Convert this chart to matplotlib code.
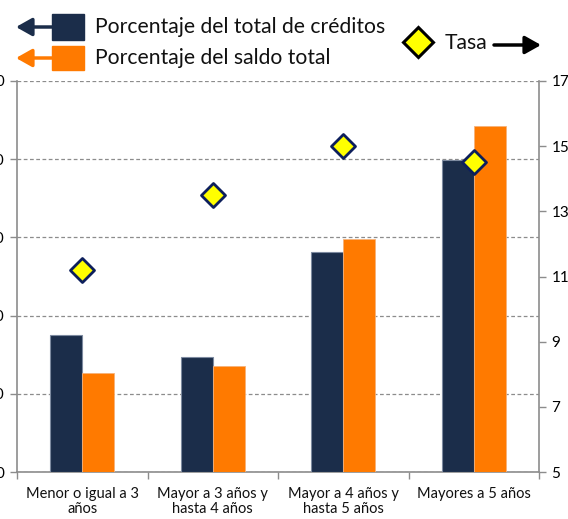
import matplotlib
matplotlib.use('Agg')  # non-interactive backend
import matplotlib.pyplot as plt
from matplotlib.patches import Rectangle
import numpy as np

plt.rcParams['font.family'] = ['Lato', 'DejaVu Sans']

# data
categories = ['Menor o igual a 3\naños', 'Mayor a 3 años y\nhasta 4 años',
              'Mayor a 4 años y\nhasta 5 años', 'Mayores a 5 años']
pct_creditos = [17.5, 14.7, 28.1, 39.9]
pct_saldo = [12.6, 13.6, 29.8, 44.3]
tasa = [11.2, 13.5, 15.0, 14.5]
left_ticks = [0, 10, 20, 30, 40, 50]
right_ticks = [5, 7, 9, 11, 13, 15, 17]

NAVY = '#1b2d4a'
ORANGE = '#ff7a00'
GRID = '#8c8c8c'

fig = plt.figure(figsize=(5.68, 5.19), dpi=100)
ax = fig.add_axes([17 / 568, 47 / 519, 522 / 568, 391 / 519])

x = np.arange(len(categories))
w = 0.245
ax.bar(x - w / 2, pct_creditos, w, color=NAVY, edgecolor='#7d8aa0', linewidth=0.8, zorder=3)
ax.bar(x + w / 2, pct_saldo, w, color=ORANGE, edgecolor='#f6b27a', linewidth=0.6, zorder=3)

ax.set_xlim(-0.5, len(categories) - 0.5)
ax.set_ylim(left_ticks[0], left_ticks[-1])
ax.set_yticks(left_ticks)
ax.yaxis.grid(True, linestyle=(0, (3, 2)), color=GRID, linewidth=0.9, zorder=0)
ax.set_axisbelow(True)

ax.set_xticks(x)
ax.set_xticklabels(categories, fontsize=10.5, color='#111111', linespacing=1.1)
ax.tick_params(axis='x', length=0, pad=11)
ax.set_xticks(np.arange(-0.5, len(categories)), minor=True)
ax.tick_params(axis='x', which='minor', length=5, color=GRID, width=1)
# left labels sit partly off the canvas, as in the reference
ax.tick_params(axis='y', length=5, color=GRID, width=1, labelsize=11, pad=4)

for side in ['left', 'bottom', 'right']:
    ax.spines[side].set_color(GRID)
    ax.spines[side].set_linewidth(1.2)
ax.spines['top'].set_visible(False)

ax2 = ax.twinx()
ax2.set_ylim(right_ticks[0], right_ticks[-1])
ax2.set_yticks(right_ticks)
ax2.tick_params(axis='y', length=5, color=GRID, width=1, labelsize=11, pad=4)
for side in ['left', 'bottom', 'right', 'top']:
    ax2.spines[side].set_visible(False)
ax2.scatter(x, tasa, marker='D', s=150, color='#ffff00', edgecolors='#0d1f5c',
            linewidths=2, zorder=5)

# legend drawn by hand at the top
arrow_style = '-|>,head_length=0.8,head_width=0.45'
fig.add_artist(Rectangle((52, 479), 32, 26, transform=None, color=NAVY))
fig.add_artist(Rectangle((52, 449), 32, 24, transform=None, color=ORANGE))
ax.annotate('', xy=(16, 492), xytext=(53, 492), xycoords='figure pixels',
            arrowprops=dict(arrowstyle=arrow_style, color=NAVY, lw=2.5,
                            mutation_scale=12, shrinkA=0, shrinkB=0))
ax.annotate('', xy=(16, 461), xytext=(53, 461), xycoords='figure pixels',
            arrowprops=dict(arrowstyle=arrow_style, color=ORANGE, lw=2.5,
                            mutation_scale=12, shrinkA=0, shrinkB=0))
fig.text(95 / 568, 492 / 519, 'Porcentaje del total de créditos', fontsize=15.2,
         va='center', ha='left', color='#111111')
fig.text(95 / 568, 461 / 519, 'Porcentaje del saldo total', fontsize=15.2,
         va='center', ha='left', color='#111111')
fig.add_artist(plt.Line2D([418 / 568], [477 / 519], marker='D', markersize=15,
                          markerfacecolor='#ffff00', markeredgecolor='black',
                          markeredgewidth=2.2, transform=fig.transFigure))
fig.text(445 / 568, 476 / 519, 'Tasa', fontsize=15.2, va='center', ha='left', color='#111111')
ax.annotate('', xy=(541, 474), xytext=(494, 474), xycoords='figure pixels',
            arrowprops=dict(arrowstyle=arrow_style, color='black', lw=2.5,
                            mutation_scale=12, shrinkA=0, shrinkB=0))

fig.savefig('out.png', dpi=100)
plt.close(fig)
